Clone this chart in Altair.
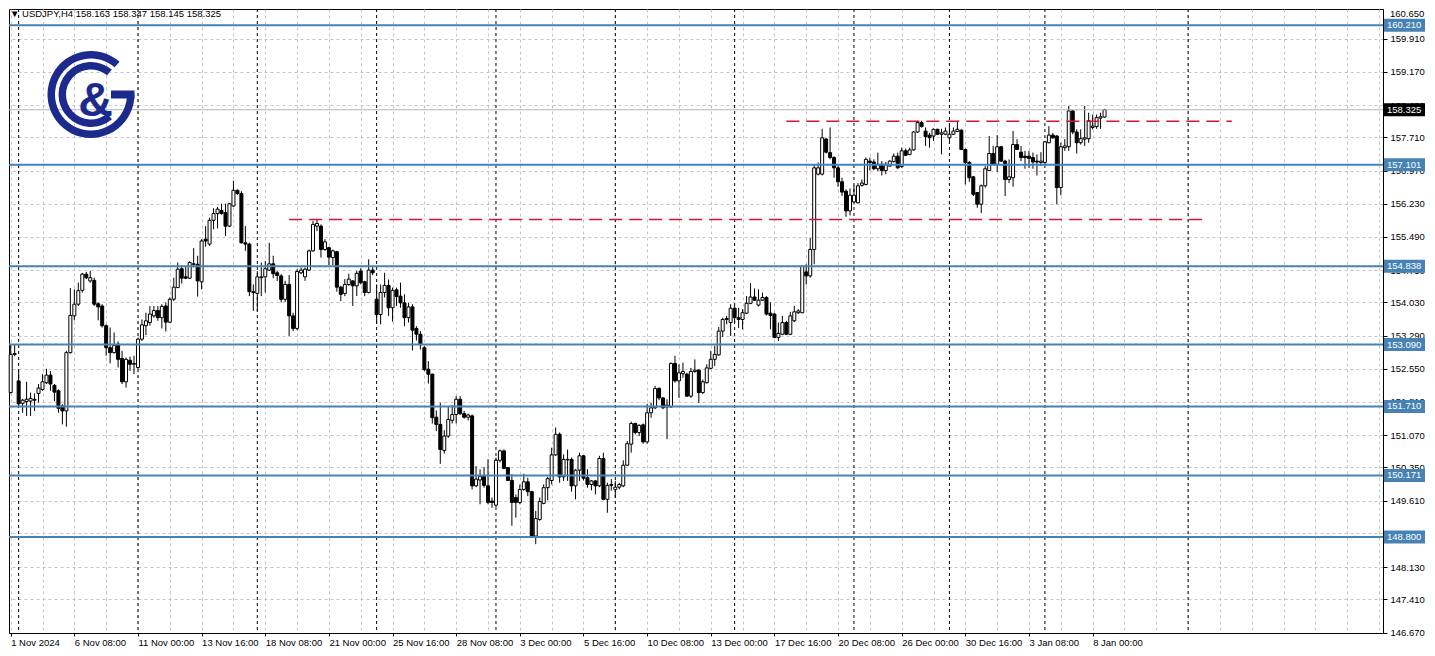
import altair as alt
import pandas as pd
import numpy as np

# ---------------- data (USDJPY H4, one value per bar) -------------
OPEN = [152.02,152.87,152.28,151.78,151.82,151.83,151.87,152.00,152.09,152.24,
        152.41,152.18,152.06,151.72,151.61,152.91,153.73,153.99,154.30,154.66,
        154.51,154.52,154.00,153.95,153.51,153.02,152.91,153.10,152.78,152.26,
        152.74,152.65,152.58,153.21,153.51,153.58,153.73,153.85,153.69,153.95,
        153.59,154.10,154.36,154.78,154.60,154.57,154.88,154.88,154.49,155.44,
        155.33,155.86,156.01,156.08,156.03,155.73,156.18,156.53,156.46,155.36,
        155.33,154.27,154.23,154.58,154.60,154.75,154.89,154.69,154.62,154.10,
        154.43,153.73,153.45,154.69,154.60,154.75,155.18,155.73,155.73,155.21,
        155.25,155.03,155.16,154.37,154.23,154.43,154.51,154.40,154.73,154.49,
        154.25,154.75,154.10,153.76,154.25,154.41,153.91,154.31,154.17,154.02,
        153.69,153.93,153.45,153.32,153.02,152.54,152.43,151.47,151.31,150.73,
        151.05,151.40,151.53,151.87,151.55,151.47,151.50,149.94,150.07,150.15,
        149.94,149.60,149.51,150.51,150.72,150.35,150.06,149.68,149.57,149.86,
        150.03,149.81,148.82,149.19,149.55,149.90,150.06,150.63,151.09,150.14,
        150.52,150.53,149.94,150.29,150.61,150.12,149.97,150.05,149.94,150.55,
        149.64,149.95,149.86,149.91,149.94,150.40,150.87,151.33,151.13,151.30,
        150.92,151.57,151.68,152.11,151.90,151.70,151.70,152.67,152.28,152.44,
        152.43,151.94,152.49,152.52,152.02,152.24,152.56,152.76,152.86,153.39,
        153.65,153.58,153.90,153.69,153.65,153.79,154.01,154.15,153.97,154.08,
        154.14,153.79,153.77,153.25,153.32,153.58,153.32,153.62,153.80,153.80,
        154.71,154.62,155.21,156.89,156.89,157.67,157.37,157.26,157.03,156.72,
        156.51,156.07,156.27,156.25,156.64,156.66,157.18,157.16,157.01,157.11,
        156.97,157.07,157.17,157.29,157.06,157.41,157.33,157.43,157.83,158.04,
        157.85,157.76,157.74,157.89,157.78,157.78,157.70,157.78,157.84,157.87,
        157.44,157.15,156.83,156.48,156.22,156.63,156.97,157.35,157.11,157.50,
        157.18,156.77,156.81,157.55,157.38,157.29,157.29,157.26,157.18,157.15,
        157.15,157.59,157.76,157.74,156.59,157.48,157.50,158.30,157.83,157.59,
        157.67,157.68,157.93,157.95,158.14,158.163]
HIGH = [153.10,153.10,152.52,151.88,152.26,152.02,152.00,152.21,152.43,152.55,
        152.50,152.21,152.09,151.76,152.95,154.35,154.32,154.47,154.69,154.71,
        154.73,154.58,154.03,153.99,153.54,153.47,153.36,153.16,152.95,152.80,
        152.82,152.84,153.25,153.65,153.80,153.95,153.95,153.95,153.99,154.03,
        154.14,154.58,154.92,154.86,154.84,154.95,155.24,155.07,155.44,155.73,
        155.92,156.13,156.16,156.23,156.23,156.25,156.74,156.55,156.51,155.73,
        155.36,154.43,154.73,154.92,154.95,155.36,155.07,154.73,154.66,154.51,
        154.64,153.80,154.77,154.81,154.81,155.21,155.85,155.88,155.77,155.44,
        155.27,155.21,155.18,154.40,154.55,154.67,154.52,154.73,154.79,154.51,
        154.99,154.84,154.43,154.43,154.69,154.54,154.36,154.36,154.47,154.21,
        154.02,153.99,153.50,153.39,153.06,152.72,152.44,151.62,151.79,151.18,
        151.72,151.74,151.94,151.94,151.61,151.55,151.53,150.38,150.31,150.36,
        150.53,149.68,150.57,150.75,150.75,150.35,150.20,149.75,149.97,150.21,
        150.12,149.83,149.38,149.68,149.97,150.14,150.79,151.24,151.13,150.64,
        150.75,150.57,150.31,150.68,150.62,150.31,150.07,150.06,150.61,150.68,
        150.01,150.09,150.05,150.01,150.51,150.94,151.37,151.35,151.31,151.33,
        151.77,151.79,152.17,152.14,151.92,151.87,152.69,152.84,152.65,152.69,
        152.46,152.57,152.76,152.54,152.31,152.65,152.95,153.06,153.48,153.69,
        153.73,153.99,153.95,153.91,153.88,154.17,154.46,154.34,154.32,154.25,
        154.17,154.03,153.80,153.58,153.73,153.62,153.82,153.95,153.88,154.86,
        154.88,155.47,157.11,157.15,157.90,157.70,157.93,157.29,157.07,156.81,
        156.55,156.57,156.64,156.69,156.77,157.26,157.26,157.22,157.37,157.18,
        157.16,157.20,157.35,157.37,157.48,157.46,157.48,157.85,158.08,158.08,
        157.93,157.81,157.91,157.90,157.90,157.93,158.00,157.93,158.08,157.89,
        157.46,157.18,156.85,156.49,156.66,157.07,157.74,157.52,157.76,157.52,
        157.21,157.22,157.85,157.67,157.52,157.41,157.41,157.37,157.33,157.38,
        157.63,157.96,157.81,157.76,157.59,157.67,158.41,158.32,157.89,157.89,
        158.41,158.26,158.22,158.22,158.26,158.347]
LOW = [152.00,152.83,151.69,151.57,151.50,151.50,151.61,151.80,152.06,152.21,
       152.06,151.83,151.57,151.31,151.26,152.89,153.63,153.95,154.25,154.55,
       154.47,153.95,153.63,153.47,152.84,152.67,152.89,152.58,152.21,152.13,
       152.50,152.43,152.54,153.17,153.30,153.51,153.69,153.62,153.45,153.38,
       153.57,154.06,154.35,154.45,154.55,154.55,154.81,154.16,154.32,155.27,
       155.29,155.66,155.68,155.99,155.51,155.71,156.16,156.43,155.34,155.18,
       154.17,153.84,153.84,154.17,154.25,154.73,154.57,154.51,154.03,154.04,
       153.28,153.39,153.41,154.66,154.51,154.73,155.16,155.62,155.03,155.18,
       154.86,154.86,154.27,154.06,154.17,154.40,153.95,154.17,154.43,154.17,
       154.23,154.64,153.56,153.54,154.14,153.73,153.60,153.95,153.91,153.50,
       153.58,152.96,153.18,152.98,152.50,152.22,151.33,151.16,150.43,150.66,
       151.01,151.33,151.33,151.52,151.44,151.40,149.86,149.91,149.53,149.90,
       149.53,149.45,149.47,150.46,150.31,150.05,149.05,149.23,149.53,149.83,
       149.71,148.79,148.64,149.16,149.53,149.62,149.97,150.61,150.01,150.05,
       150.05,149.81,149.64,150.05,150.06,149.90,149.84,149.75,149.91,149.62,
       149.34,149.83,149.68,149.86,149.91,150.38,150.68,151.09,151.05,150.88,
       150.88,151.46,151.65,151.85,151.65,150.98,151.68,152.24,151.90,152.35,
       151.92,151.90,152.46,151.79,151.99,152.22,152.54,152.61,152.84,153.26,
       153.54,153.28,153.58,153.46,153.43,153.77,153.99,154.06,153.94,154.06,
       153.74,153.43,153.23,153.17,153.30,153.30,153.30,153.59,153.77,153.79,
       154.43,154.58,154.88,156.86,156.86,157.35,157.22,156.81,156.61,156.40,
       155.94,155.97,156.25,156.24,156.61,156.64,156.97,156.98,156.96,156.86,
       156.89,157.06,157.15,157.01,157.03,157.29,157.31,157.41,157.81,157.93,
       157.52,157.48,157.63,157.76,157.33,157.76,157.63,157.76,157.83,157.43,
       156.66,156.72,156.40,156.14,156.02,156.59,156.96,157.09,156.94,157.16,
       156.40,156.69,156.61,157.43,157.18,157.01,157.03,157.01,156.86,157.07,
       157.11,157.58,157.68,156.22,156.42,157.41,157.41,157.78,157.35,157.55,
       157.52,157.59,157.89,157.90,157.90,158.145]
CLOSE = [152.87,152.89,151.77,151.85,151.87,151.89,151.85,152.12,152.26,152.41,
         152.21,152.03,151.67,151.61,152.91,153.74,153.99,154.29,154.66,154.58,
         154.58,153.99,153.93,153.51,153.02,152.91,153.07,152.76,152.26,152.76,
         152.65,152.67,153.21,153.53,153.62,153.77,153.85,153.69,153.94,153.59,
         154.10,154.37,154.77,154.57,154.57,154.92,154.89,154.51,155.40,155.40,
         155.86,156.01,156.11,156.01,155.73,156.23,156.53,156.46,155.36,155.33,
         154.27,154.25,154.60,154.60,154.78,154.89,154.67,154.63,154.10,154.43,
         153.73,153.45,154.72,154.75,154.77,155.18,155.77,155.79,155.21,155.38,
         155.04,155.18,154.37,154.21,154.43,154.55,154.40,154.68,154.47,154.25,
         154.75,154.69,153.76,154.25,154.41,153.91,154.30,154.16,154.02,153.69,
         153.93,153.41,153.32,153.09,152.53,152.43,151.46,151.31,150.75,151.05,
         151.42,151.53,151.87,151.55,151.47,151.52,149.94,150.09,150.15,149.95,
         149.57,149.57,150.51,150.72,150.33,150.06,149.57,149.57,149.86,150.03,
         149.81,148.80,149.21,149.59,149.90,150.10,150.63,151.09,150.14,150.53,
         150.53,149.94,150.29,150.61,150.11,149.97,150.05,149.94,150.55,149.64,
         149.95,149.97,149.91,149.97,150.40,150.88,151.33,151.13,151.29,150.92,
         151.57,151.68,152.11,151.90,151.68,151.74,152.67,152.28,152.46,152.49,
         151.94,152.49,152.52,152.02,152.26,152.57,152.76,152.87,153.39,153.65,
         153.67,153.90,153.69,153.65,153.80,154.01,154.15,154.08,154.08,154.14,
         153.77,153.74,153.25,153.34,153.58,153.32,153.73,153.82,153.84,154.83,
         154.62,155.21,157.03,157.03,157.70,157.38,157.26,157.03,156.72,156.49,
         156.07,156.42,156.42,156.63,156.69,157.22,157.15,157.01,157.11,156.97,
         157.11,157.18,157.29,157.03,157.41,157.31,157.43,157.83,158.04,157.95,
         157.73,157.70,157.89,157.78,157.81,157.85,157.78,157.85,157.89,157.44,
         157.15,156.81,156.44,156.22,156.63,157.01,157.35,157.11,157.50,157.18,
         156.77,156.83,157.55,157.44,157.26,157.26,157.24,157.16,157.16,157.18,
         157.61,157.76,157.70,156.59,157.50,157.52,158.30,157.83,157.59,157.68,
         157.70,158.08,157.96,158.15,158.17,158.325]

# x-axis labels, one every 16 bars starting at the first bar
X_LABELS = ["1 Nov 2024", "6 Nov 08:00", "11 Nov 00:00", "13 Nov 16:00", "18 Nov 08:00",
            "21 Nov 00:00", "25 Nov 16:00", "28 Nov 08:00", "3 Dec 00:00", "5 Dec 16:00",
            "10 Dec 08:00", "13 Dec 00:00", "17 Dec 16:00", "20 Dec 08:00", "26 Dec 00:00",
            "30 Dec 16:00", "3 Jan 08:00", "8 Jan 00:00"]
LABEL_STEP = 16
GRID_STEP = 8
Y_TICKS = [160.650, 159.910, 159.170, 158.430, 157.710, 156.970, 156.230, 155.490,
           154.750, 154.030, 153.290, 152.550, 151.810, 151.070, 150.350, 149.610,
           148.880, 148.130, 147.410, 146.670]
HIDDEN_TICK_LABELS = [148.880]   # fully covered by the 148.800 level tag in the picture
LEVELS = [160.210, 157.101, 154.838, 153.090, 151.710, 150.171, 148.800]
LAST_PRICE = 158.325
RED_LEVELS = [158.07, 155.88]
RED_START = [195, 70]
RED_END = [307, 301]
SEPARATORS = [2, 32, 62, 92, 122, 152, 182, 212, 236, 260, 296]
TITLE = "\u25BC USDJPY,H4  158.163 158.347 158.145 158.325"

# ---------------- layout / style ----------------
W, H = 1374, 624
XDOM = [-0.425, 345.0]
YDOM = [146.659, 160.572]
PX_PER_UNIT = H / (YDOM[1] - YDOM[0])
BOX_HALF = 6.5 / PX_PER_UNIT
FONT = "Liberation Sans"
FS = 9.5
GRID = "#c4c4c4"
BLUE = "#4682b4"
RED = "#d2143a"
NAVY = "#1b2a8c"

n = len(CLOSE)
df = pd.DataFrame({"i": np.arange(n), "open": OPEN, "high": HIGH, "low": LOW, "close": CLOSE})
df["dir"] = np.where(df["close"] >= df["open"], "up", "down")

xs = alt.Scale(domain=XDOM, nice=False, zero=False, padding=0)
ys = alt.Scale(domain=YDOM, nice=False, zero=False, padding=0)

arr = "[" + ",".join("'" + s + "'" for s in X_LABELS) + "]"
last_lab = LABEL_STEP * (len(X_LABELS) - 1)
label_test = f"datum.value % {LABEL_STEP} === 0 && datum.value <= {last_lab}"
label_expr = f"({label_test}) ? {arr}[datum.value / {LABEL_STEP}] : ''"

in_dom = [v for v in Y_TICKS if YDOM[0] <= v <= YDOM[1]]
above = [v for v in Y_TICKS if v > YDOM[1]]
hide_test = " || ".join(f"abs(datum.value - {v}) < 0.0005" for v in HIDDEN_TICK_LABELS)
y_label_expr = f"({hide_test}) ? '' : format(datum.value, '.3f')"

x_axis = alt.Axis(
    values=list(range(0, 345, GRID_STEP)), labelExpr=label_expr, labelAlign="left",
    labelAngle=0, labelPadding=1, labelFont=FONT, labelFontSize=FS, labelColor="black",
    labelOverlap=False, labelFlush=False, tickSize=3, tickColor="black",
    tickOpacity={"condition": {"test": label_test, "value": 1}, "value": 0},
    domainColor="black", grid=True, gridColor=GRID, gridDash=[3, 3], gridWidth=1, title=None)
y_axis = alt.Axis(
    orient="right", values=in_dom, labelExpr=y_label_expr, labelFont=FONT, labelFontSize=FS,
    labelColor="black", labelOverlap=False, labelFlush=False, labelPadding=3, tickSize=4,
    tickColor="black", domainColor="black", grid=True, gridColor=GRID, gridDash=[3, 3],
    gridWidth=1, title=None)

def X(field):
    return alt.X(field, scale=xs, axis=x_axis)

def Y(field):
    return alt.Y(field, scale=ys, axis=y_axis)

base = alt.Chart(df)
wicks = base.mark_rule(color="black", strokeWidth=1).encode(
    x=X("i:Q"), y=Y("low:Q"), y2="high:Q")
bodies = base.mark_bar(width=3, stroke="black", strokeWidth=1).encode(
    x=X("i:Q"), y=Y("open:Q"), y2="close:Q",
    fill=alt.Fill("dir:N", scale=alt.Scale(domain=["up", "down"], range=["white", "black"]), legend=None))

sep = alt.Chart(pd.DataFrame({"i": SEPARATORS})).mark_rule(
    color="black", strokeDash=[3, 3], strokeWidth=1).encode(x=X("i:Q"))

lev_df = pd.DataFrame({"p": LEVELS, "lab": [f"{v:.3f}" for v in LEVELS]})
lev_df["lo"] = lev_df["p"] - BOX_HALF
lev_df["hi"] = lev_df["p"] + BOX_HALF
levels = alt.Chart(lev_df).mark_rule(color=BLUE, strokeWidth=2).encode(y=Y("p:Q"))
lev_box = alt.Chart(lev_df).mark_rect(color=BLUE).encode(
    x=alt.value(W + 1), x2=alt.value(W + 42), y=Y("lo:Q"), y2="hi:Q")
lev_txt = alt.Chart(lev_df).mark_text(
    color="white", align="left", baseline="middle", font=FONT, fontSize=FS).encode(
    x=alt.value(W + 4), y=Y("p:Q"), text="lab:N")

last_df = pd.DataFrame({"p": [LAST_PRICE], "lab": [f"{LAST_PRICE:.3f}"]})
last_df["lo"] = last_df["p"] - BOX_HALF
last_df["hi"] = last_df["p"] + BOX_HALF
last_line = alt.Chart(last_df).mark_rule(color="#b4b4b4", strokeWidth=1).encode(y=Y("p:Q"))
last_box = alt.Chart(last_df).mark_rect(color="black").encode(
    x=alt.value(W + 1), x2=alt.value(W + 42), y=Y("lo:Q"), y2="hi:Q")
last_txt = alt.Chart(last_df).mark_text(
    color="white", align="left", baseline="middle", font=FONT, fontSize=FS).encode(
    x=alt.value(W + 4), y=Y("p:Q"), text="lab:N")

red_df = pd.DataFrame({"p": RED_LEVELS, "a": RED_START, "b": RED_END})
red = alt.Chart(red_df).mark_rule(color=RED, strokeDash=[13, 7], strokeWidth=1.5).encode(
    x=X("a:Q"), x2="b:Q", y=Y("p:Q"))

# top price label that lies just above the visible price range
top_df = pd.DataFrame({"lab": [f"{v:.3f}" for v in above]})
top_lab = alt.Chart(top_df).mark_text(
    align="left", baseline="top", font=FONT, fontSize=FS, color="black").encode(
    x=alt.value(W + 7), y=alt.value(0), text="lab:N")

one = pd.DataFrame({"k": [0]})
title = alt.Chart(one).mark_text(
    text=TITLE, align="left", baseline="top", font=FONT, fontSize=FS, color="black").encode(
    x=alt.value(1), y=alt.value(0))

# logo (G & G)
cx, cy = 82, 85.5
ring_out = alt.Chart(one).mark_arc(color=NAVY).encode(
    x=alt.value(cx), y=alt.value(cy), theta=alt.value(1.571), theta2=alt.value(7.0),
    radius=alt.value(43.5), radius2=alt.value(36))
ring_in = alt.Chart(one).mark_arc(color=NAVY).encode(
    x=alt.value(cx), y=alt.value(cy), theta=alt.value(2.44), theta2=alt.value(6.98),
    radius=alt.value(32.5), radius2=alt.value(25))
gbar = alt.Chart(one).mark_rect(color=NAVY).encode(
    x=alt.value(cx + 20), x2=alt.value(cx + 43.5), y=alt.value(cy - 4), y2=alt.value(cy + 4))
amp = alt.Chart(one).mark_text(
    text="&", font=FONT, fontWeight="bold", fontSize=48, color=NAVY, align="center",
    baseline="alphabetic").encode(x=alt.value(cx + 4.5), y=alt.value(cy + 21))

chart = alt.layer(
    sep, wicks, bodies, last_line, levels, red, lev_box, lev_txt, last_box, last_txt,
    top_lab, title, ring_out, ring_in, gbar, amp
).properties(width=W, height=H, padding=0, background="white").configure_view(
    stroke="black", strokeWidth=1)

chart.save("out.html", embed_options={"renderer": "svg", "actions": False})
